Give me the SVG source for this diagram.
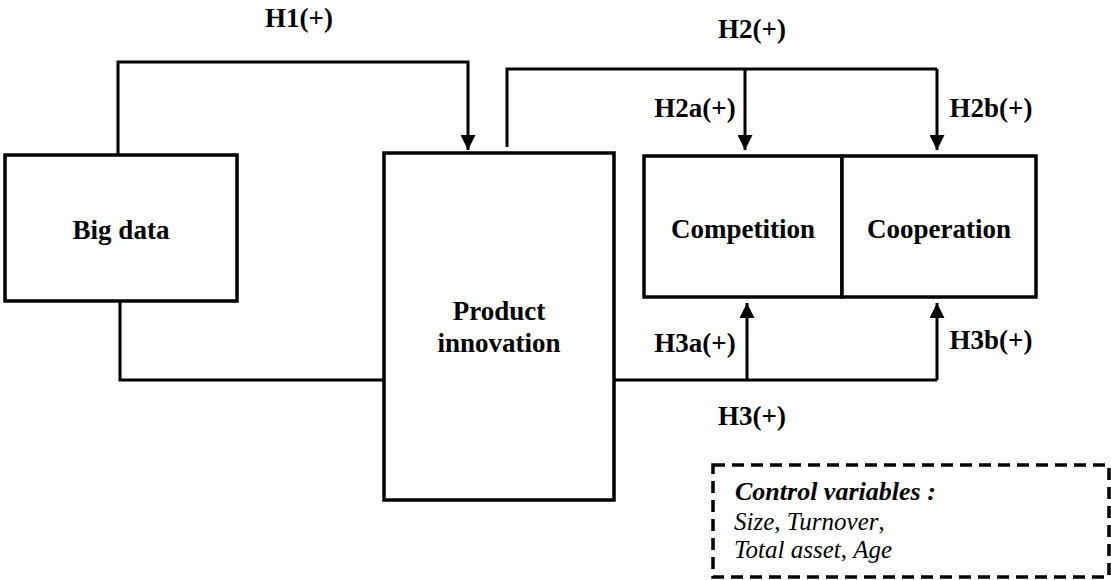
<svg xmlns="http://www.w3.org/2000/svg" width="1111" height="580" viewBox="0 0 1111 580">
<defs>
<marker id="arr" viewBox="0 0 10 10" refX="10" refY="5" markerWidth="5" markerHeight="5" markerUnits="strokeWidth" orient="auto">
<path d="M0,0 L10,5 L0,10 Z" fill="#000"/>
</marker>
</defs>
<style>
.box{fill:#fff;stroke:#000;stroke-width:3.5}
.con{fill:none;stroke:#000;stroke-width:3}
</style>
<rect width="1111" height="580" fill="#fff"/>
<g id="connectors">
<path class="con" d="M118,154 V62 H468 V150" marker-end="url(#arr)"/>
<path class="con" d="M120,301 V380 H384"/>
<path class="con" d="M507,147 V69 H937"/>
<path class="con" d="M745,69 V150" marker-end="url(#arr)"/>
<path class="con" d="M937,69 V150" marker-end="url(#arr)"/>
<path class="con" d="M614,380 H937"/>
<path class="con" d="M747,380 V303" marker-end="url(#arr)"/>
<path class="con" d="M937,380 V303" marker-end="url(#arr)"/>
<g font-family="Liberation Serif, Times New Roman, serif" font-weight="bold" font-size="27" text-anchor="middle" fill="#000">
<text x="299" y="27">H1(+)</text>
<text x="752" y="38">H2(+)</text>
<text x="695" y="117">H2a(+)</text>
<text x="991" y="117">H2b(+)</text>
<text x="695" y="352">H3a(+)</text>
<text x="991" y="349">H3b(+)</text>
<text x="752" y="425">H3(+)</text>
</g>
</g>
<g id="big-data">
<rect class="box" x="5" y="155" width="232" height="146"/>
<text x="121" y="239" font-family="Liberation Serif, Times New Roman, serif" font-weight="bold" font-size="27" text-anchor="middle">Big data</text>
</g>
<g id="product-innovation">
<rect class="box" x="384" y="153" width="230" height="347"/>
<text x="499" y="320" font-family="Liberation Serif, Times New Roman, serif" font-weight="bold" font-size="27" text-anchor="middle">Product</text>
<text x="499" y="352" font-family="Liberation Serif, Times New Roman, serif" font-weight="bold" font-size="27" text-anchor="middle">innovation</text>
</g>
<g id="competition">
<rect class="box" x="644" y="156" width="198" height="141"/>
<text x="743" y="238" font-family="Liberation Serif, Times New Roman, serif" font-weight="bold" font-size="27" text-anchor="middle">Competition</text>
</g>
<g id="cooperation">
<rect class="box" x="842" y="156" width="194" height="141"/>
<text x="939" y="238" font-family="Liberation Serif, Times New Roman, serif" font-weight="bold" font-size="27" text-anchor="middle">Cooperation</text>
</g>
<g id="control-variables">
<rect x="713" y="465" width="396" height="112" fill="none" stroke="#000" stroke-width="3.5" stroke-dasharray="12,7"/>
<g font-family="Liberation Serif, Times New Roman, serif" font-style="italic" font-size="25" fill="#000">
<text x="735" y="500" font-weight="bold" font-size="26">Control variables :</text>
<text x="734" y="530">Size<tspan font-style="normal">, </tspan>Turnover<tspan font-style="normal">,</tspan></text>
<text x="734" y="558">Total asset<tspan font-style="normal">, </tspan>Age</text>
</g>
</g>
</svg>
